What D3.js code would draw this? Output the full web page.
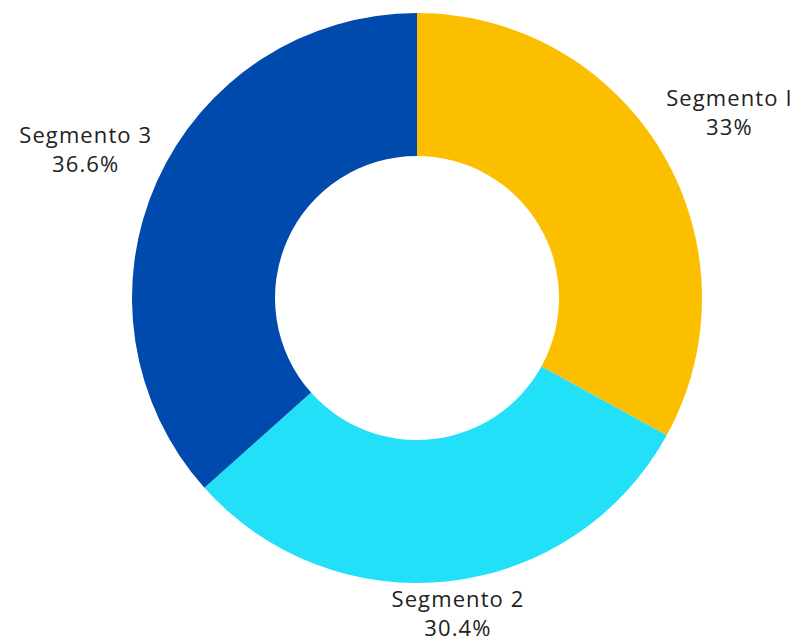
<!DOCTYPE html>
<html>
<head>
<meta charset="utf-8">
<script src="https://cdn.jsdelivr.net/npm/d3@7"></script>
<style>
  body { margin: 0; background: #fff; }
  text { font-family: "Open Sans", sans-serif; fill: #222; }
</style>
</head>
<body>
<script>
var categories = ["Segmento I", "Segmento 2", "Segmento 3"];
var values = [33, 30.4, 36.6];
var labels = ["33%", "30.4%", "36.6%"];
var colors = ["#fbbf00", "#22e0f8", "#004aad"];

var width = 797, height = 642;
var cx = 417, cy = 298, outerR = 285, innerR = 142, labelR = 363;

var svg = d3.select("body").append("svg")
  .attr("width", width)
  .attr("height", height);

var g = svg.append("g").attr("transform", "translate(" + cx + "," + cy + ")");

var data = categories.map(function(c, i) { return {name: c, value: values[i], label: labels[i], color: colors[i]}; });

var pie = d3.pie().sort(null).value(function(d) { return d.value; });
var arc = d3.arc().innerRadius(innerR).outerRadius(outerR);
var labelArc = d3.arc().innerRadius(labelR).outerRadius(labelR);

var arcs = pie(data);

g.selectAll("path")
  .data(arcs)
  .enter().append("path")
  .attr("d", arc)
  .attr("fill", function(d) { return d.data.color; });

var lab = g.selectAll(".lab")
  .data(arcs)
  .enter().append("text")
  .attr("class", "lab")
  .attr("text-anchor", "middle")
  .attr("font-size", 22)
  .attr("letter-spacing", 1.1)
  .attr("transform", function(d) {
    var p = labelArc.centroid(d);
    // keep labels inside the picture
    var maxY = height - cy - 28;
    if (p[1] > maxY) p[1] = maxY;
    return "translate(" + p[0] + "," + p[1] + ")";
  });

lab.append("tspan").attr("x", 0).attr("dy", -7).text(function(d) { return d.data.name; });
lab.append("tspan").attr("x", 0).attr("dy", 29).text(function(d) { return d.data.label; });
</script>
</body>
</html>
